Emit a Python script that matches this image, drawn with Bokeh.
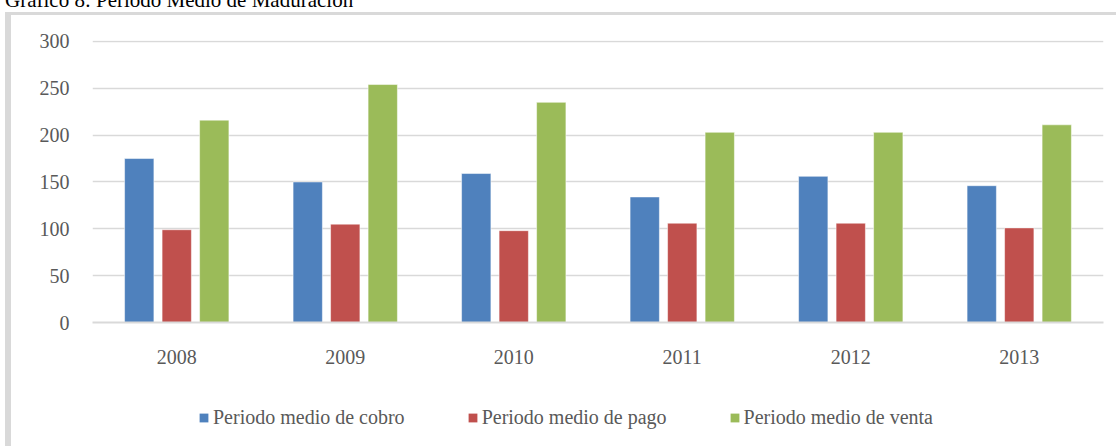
from bokeh.plotting import figure
from bokeh.models import (ColumnDataSource, Range1d, FactorRange, Legend, LegendItem,
                          SingleIntervalTicker, Div)
from bokeh.layouts import column
from bokeh.transform import dodge
from bokeh.embed import file_html
from bokeh.resources import INLINE

title_text = "Gráfico 8: Periodo Medio de Maduración"
years = ["2008", "2009", "2010", "2011", "2012", "2013"]
cobro = [175, 150, 159, 134, 156, 146]
pago = [99, 105, 98, 106, 106, 101]
venta = [216, 254, 235, 203, 203, 211]
series_names = ["Periodo medio de cobro", "Periodo medio de pago", "Periodo medio de venta"]
colors = ["#4F81BD", "#C0504D", "#9BBB59"]

FONT = "Liberation Serif"
TXT = "#595959"
GRID = "#D9D9D9"

src = ColumnDataSource(dict(year=years, cobro=cobro, pago=pago, venta=venta))
keys = ["cobro", "pago", "venta"]
offsets = [-0.2226, 0.0, 0.2226]

p = figure(width=1105, height=360, output_backend="svg", toolbar_location=None,
           x_range=FactorRange(*years, range_padding=0), y_range=Range1d(0, 301),
           min_border_left=81, min_border_right=13, min_border_top=25, min_border_bottom=53)
p.outline_line_color = None
p.background_fill_color = "white"
p.border_fill_color = "white"

for key, off, col in zip(keys, offsets, colors):
    p.vbar(x=dodge("year", off, range=p.x_range), top=key, width=0.174, source=src,
           fill_color=col, line_color="white", line_alpha=0.5, line_width=1)

# axes
p.yaxis.ticker = SingleIntervalTicker(interval=50)
p.yaxis.axis_line_color = None
p.yaxis.major_tick_line_color = None
p.yaxis.minor_tick_line_color = None
p.yaxis.major_tick_out = 0
p.yaxis.major_tick_in = 0
p.yaxis.major_label_standoff = 19
p.yaxis.major_label_text_font = FONT
p.yaxis.major_label_text_font_size = "20px"
p.yaxis.major_label_text_color = TXT

p.xaxis.axis_line_color = GRID
p.xaxis.axis_line_width = 2
p.xaxis.major_tick_line_color = None
p.xaxis.minor_tick_line_color = None
p.xaxis.major_tick_out = 0
p.xaxis.major_tick_in = 0
p.xaxis.major_label_standoff = 27
p.xaxis.major_label_text_font = FONT
p.xaxis.major_label_text_font_size = "20px"
p.xaxis.major_label_text_color = TXT

p.xgrid.grid_line_color = None
p.ygrid.grid_line_color = GRID
p.ygrid.grid_line_width = 1.5

# legend strip below the chart (same series, bars kept out of its view range)
pl = figure(width=1105, height=71, output_backend="svg", toolbar_location=None,
            x_range=FactorRange(*years, range_padding=0), y_range=Range1d(1000, 1001),
            min_border_left=0, min_border_right=0, min_border_top=0, min_border_bottom=0)
pl.axis.visible = False
pl.outline_line_color = None
pl.grid.visible = False
pl.border_fill_color = "white"
leg_renderers = [pl.vbar(x=dodge("year", off, range=pl.x_range), top=key, width=0.174,
                         source=src, fill_color=c, line_color=None)
                 for key, off, c in zip(keys, offsets, colors)]
items = [LegendItem(label=n, renderers=[r]) for n, r in zip(series_names, leg_renderers)]
legend = Legend(items=items, orientation="horizontal", location=(106, 17),
                glyph_width=11, glyph_height=11, label_standoff=4, spacing=62,
                padding=0, margin=0, border_line_color=None, background_fill_alpha=0,
                label_text_font=FONT, label_text_font_size="20px", label_text_color=TXT)
pl.add_layout(legend, "center")

chart = column(p, pl, spacing=0,
               styles={"margin-left": "5px",
                       "border-left": "6px solid #D9D9D9", "border-top": "3px solid #D9D9D9"})

title_div = Div(text=title_text, width=600, height=18,
                styles={"margin-top": "-11px", "font-family": FONT, "font-size": "21px",
                        "line-height": "23px", "color": "#000000", "white-space": "nowrap",
                        "overflow": "visible"})

layout = column(title_div, chart, spacing=0)

open("out.html", "w").write(file_html(layout, INLINE))
